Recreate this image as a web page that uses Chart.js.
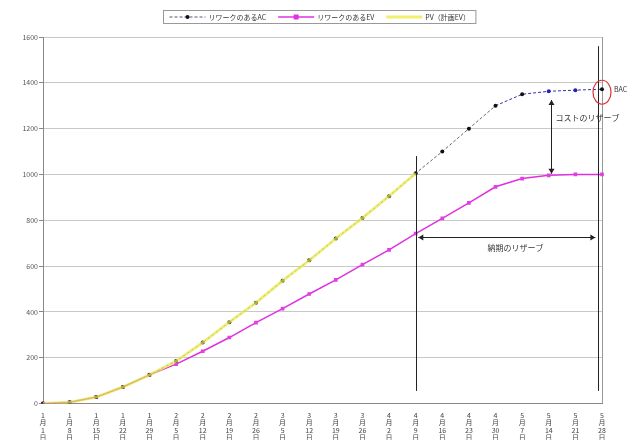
<!DOCTYPE html>
<html>
<head>
<meta charset="utf-8">
<script src="https://cdn.jsdelivr.net/npm/chart.js@4.4.1/dist/chart.umd.min.js"></script>
<style>
  html, body { margin: 0; padding: 0; background: #fff; }
  canvas { display: block; }
</style>
</head>
<body>
<canvas id="chart" width="642" height="440"></canvas>
<script>
// EVM chart: AC with rework, EV with rework, planned value

const categories = ['1月1日', '1月8日', '1月15日', '1月22日', '1月29日', '2月5日', '2月12日', '2月19日',
    '2月26日', '3月5日', '3月12日', '3月19日', '3月26日', '4月2日', '4月9日', '4月16日',
    '4月23日', '4月30日', '5月7日', '5月14日', '5月21日', '5月28日'];

const acValues = [0, 5, 28, 72, 125, 185, 266, 355, 440, 536, 625, 720, 810, 905, 1005,
    1100, 1200, 1300, 1350, 1363, 1368, 1372];
const evValues = [0, 5, 28, 72, 125, 172, 228, 288, 353, 414, 478, 540, 606, 671, 742,
    808, 876, 946, 982, 996, 1000, 1000];
const pvValues = [0, 5, 28, 72, 125, 185, 266, 355, 440, 536, 625, 720, 810, 905, 1005,
    null, null, null, null, null, null, null];

const yTicks = [0, 200, 400, 600, 800, 1000, 1200, 1400, 1600];

const seriesNames = ['リワークのあるAC', 'リワークのあるEV', 'PV（計画EV）'];

const FONT = '"Noto Sans CJK JP", "Noto Sans", sans-serif';

// reference lines, arrows and notes drawn on top of the plot
const annotations = {
    id: 'annotations',
    afterDatasetsDraw(chart) {
        const { ctx, scales: { x, y } } = chart;
        ctx.save();
        ctx.strokeStyle = '#222';
        ctx.fillStyle = '#222';
        ctx.lineWidth = 1;

        const vline = (xv, y1, y2) => {
            const px = Math.round(x.getPixelForValue(xv)) + 0.5;
            ctx.beginPath();
            ctx.moveTo(px, y.getPixelForValue(y1));
            ctx.lineTo(px, y.getPixelForValue(y2));
            ctx.stroke();
        };
        const head = (px, py, dx, dy) => {
            // small arrow head pointing in (dx, dy)
            ctx.beginPath();
            ctx.moveTo(px, py);
            ctx.lineTo(px - dx * 5 - dy * 3, py - dy * 5 - dx * 3);
            ctx.lineTo(px - dx * 5 + dy * 3, py - dy * 5 + dx * 3);
            ctx.closePath();
            ctx.fill();
        };

        // status date and completion lines
        vline(14, 1080, 55);
        vline(20.85, 1560, 55);

        // schedule reserve
        const hy = Math.round(y.getPixelForValue(725)) + 0.5;
        const hx1 = x.getPixelForValue(14.1), hx2 = x.getPixelForValue(20.75);
        ctx.beginPath();
        ctx.moveTo(hx1, hy);
        ctx.lineTo(hx2, hy);
        ctx.stroke();
        head(hx1, hy, -1, 0);
        head(hx2, hy, 1, 0);

        // cost reserve
        const vx = Math.round(x.getPixelForValue(19.1)) + 0.5;
        const vy1 = y.getPixelForValue(1325), vy2 = y.getPixelForValue(1003);
        ctx.beginPath();
        ctx.moveTo(vx, vy1);
        ctx.lineTo(vx, vy2);
        ctx.stroke();
        head(vx, vy1, 0, -1);
        head(vx, vy2, 0, 1);

        ctx.font = '8px ' + FONT;
        ctx.fillStyle = '#333';
        ctx.textBaseline = 'middle';
        ctx.textAlign = 'center';
        ctx.fillText('納期のリザーブ', x.getPixelForValue(17.75), y.getPixelForValue(680));
        ctx.textAlign = 'left';
        ctx.fillText('コストのリザーブ', x.getPixelForValue(19.25), y.getPixelForValue(1245));

        // BAC mark
        const last = categories.length - 1;
        const bx = x.getPixelForValue(last), by = y.getPixelForValue(acValues[last]);
        ctx.strokeStyle = '#e03030';
        ctx.lineWidth = 1.2;
        ctx.beginPath();
        ctx.ellipse(bx, by + 3, 9, 12, 0, 0, Math.PI * 2);
        ctx.stroke();
        ctx.font = '7px ' + FONT;
        ctx.fillText('BAC', bx + 12, by);
        ctx.restore();
    }
};

// boxed legend at the top, line sample with marker
const topLegend = {
    id: 'topLegend',
    afterDraw(chart) {
        const { ctx } = chart;
        const samples = [
            { color: '#555577', dash: [3, 2], width: 1, marker: 'circle', mColor: '#111' },
            { color: '#e030e0', dash: [], width: 1.5, marker: 'rect', mColor: '#e030e0' },
            { color: 'rgba(238,238,90,0.9)', dash: [], width: 3, marker: null }
        ];
        ctx.save();
        ctx.font = '7px ' + FONT;
        const lineLen = 36, gap = 3, sep = 12, pad = 6;
        let total = pad * 2;
        seriesNames.forEach((n, i) => {
            total += lineLen + gap + ctx.measureText(n).width + (i < seriesNames.length - 1 ? sep : 0);
        });
        const top = 10, h = 13;
        let left = Math.round(chart.width / 2 - total / 2 - 2) + 0.5;
        ctx.strokeStyle = '#999';
        ctx.lineWidth = 1;
        ctx.strokeRect(left, top + 0.5, total, h);
        let cx = left + pad;
        const cy = top + h / 2 + 0.5;
        seriesNames.forEach((n, i) => {
            const s = samples[i];
            ctx.strokeStyle = s.color;
            ctx.lineWidth = s.width;
            ctx.setLineDash(s.dash);
            ctx.beginPath();
            ctx.moveTo(cx, cy);
            ctx.lineTo(cx + lineLen, cy);
            ctx.stroke();
            ctx.setLineDash([]);
            if (s.marker === 'circle') {
                ctx.fillStyle = s.mColor;
                ctx.beginPath();
                ctx.arc(cx + lineLen / 2, cy, 2, 0, Math.PI * 2);
                ctx.fill();
            } else if (s.marker === 'rect') {
                ctx.fillStyle = s.mColor;
                ctx.fillRect(cx + lineLen / 2 - 2.5, cy - 2.5, 5, 5);
            }
            cx += lineLen + gap;
            ctx.fillStyle = '#333';
            ctx.textBaseline = 'middle';
            ctx.fillText(n, cx, cy);
            cx += ctx.measureText(n).width + sep;
        });
        ctx.restore();
    }
};

const whiteBg = {
    id: 'whiteBg',
    beforeDraw(chart) {
        const { ctx } = chart;
        ctx.save();
        ctx.fillStyle = '#fff';
        ctx.fillRect(0, 0, chart.width, chart.height);
        ctx.restore();
    }
};

new Chart(document.getElementById('chart'), {
    type: 'line',
    data: {
        labels: categories,
        datasets: [
            {
                label: seriesNames[2],
                data: pvValues,
                borderColor: 'rgba(236,236,80,0.72)',
                borderWidth: 3,
                pointRadius: 0,
                tension: 0,
                order: 0
            },
            {
                label: seriesNames[0],
                data: acValues,
                borderColor: '#556',
                borderWidth: 1,
                borderDash: [3, 2],
                segment: {
                    borderColor: c => c.p0DataIndex >= 17 ? '#3434a8' : '#667'
                },
                pointRadius: 2,
                pointBorderWidth: 0,
                pointBackgroundColor: acValues.map((v, i) => (i === 19 || i === 20) ? '#2424b4' : '#111'),
                tension: 0,
                order: 1
            },
            {
                label: seriesNames[1],
                data: evValues,
                borderColor: '#e030e0',
                borderWidth: 1.5,
                pointStyle: 'rect',
                pointRadius: 2.6,
                pointBorderWidth: 0,
                pointBackgroundColor: '#e040e0',
                tension: 0,
                order: 2
            }
        ]
    },
    options: {
        responsive: false,
        devicePixelRatio: 1,
        animation: false,
        layout: { padding: { top: 37, right: 40, left: 0, bottom: 0 } },
        plugins: {
            legend: { display: false },
            tooltip: { enabled: false }
        },
        scales: {
            x: {
                offset: false,
                afterFit: s => { s.height = 36.5; },
                grid: {
                    drawTicks: false,
                    color: c => c.index === categories.length - 1 ? '#999' : 'rgba(0,0,0,0)'
                },
                border: { color: '#888' },
                ticks: {
                    autoSkip: false,
                    maxRotation: 0,
                    padding: 8,
                    color: '#444',
                    font: { size: 7, family: FONT, lineHeight: 1.05 },
                    // vertical text: each character stacked, digit runs kept together
                    callback: (v, i) => categories[i].match(/\d+|./g)
                }
            },
            y: {
                min: 0,
                max: 1600,
                afterFit: s => { s.width = 43; },
                afterBuildTicks: s => { s.ticks = yTicks.map(v => ({ value: v })); },
                grid: { color: '#c8c8c8', tickLength: 4, tickColor: '#888' },
                border: { color: '#888' },
                ticks: {
                    padding: 1,
                    color: '#555',
                    font: { size: 7, family: FONT },
                    callback: v => String(v)
                }
            }
        }
    },
    plugins: [whiteBg, annotations, topLegend]
});
</script>
</body>
</html>
